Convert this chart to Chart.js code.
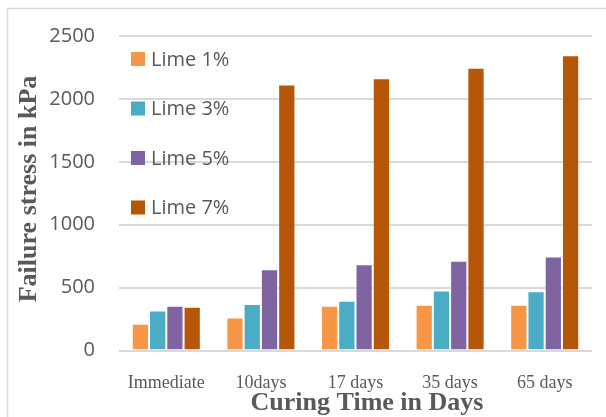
<!DOCTYPE html>
<html>
<head>
<meta charset="utf-8">
<script src="https://cdn.jsdelivr.net/npm/chart.js@4/dist/chart.umd.min.js"></script>
<style>
  html, body { margin: 0; padding: 0; background: #ffffff; }
  #wrap { width: 606px; height: 417px; position: relative; }
</style>
</head>
<body>
<div id="wrap"><canvas id="c" width="606" height="417"></canvas></div>
<script>
// Curing periods
const categories = ['Immediate', '10days', '17 days', '35 days', '65 days'];

// Failure stress (kPa) for each lime content
const lime1 = [213, 262, 356, 364, 364];
const lime3 = [317, 369, 395, 476, 471];
const lime5 = [356, 645, 685, 714, 747];
const lime7 = [348, 2114, 2164, 2247, 2346];

const seriesLabels = ['Lime 1%', 'Lime 3%', 'Lime 5%', 'Lime 7%'];
const seriesColors = ['#F79646', '#4BACC6', '#8064A2', '#B65708'];

const yTitle = 'Failure stress in kPa';
const xTitle = 'Curing Time in Days';

const GREY_TEXT = '#595959';
const SANS = "'Open Sans', 'Noto Sans', sans-serif";
const SERIF = "'Liberation Serif', 'Times New Roman', serif";

// Frame, axis titles and the in-plot legend
const decorations = {
  id: 'decorations',
  beforeDraw(chart) {
    const ctx = chart.ctx;
    ctx.save();
    ctx.strokeStyle = '#D9D9D9';
    ctx.lineWidth = 1.5;
    ctx.beginPath();
    ctx.moveTo(7.5, chart.height);
    ctx.lineTo(7.5, 8.5);
    ctx.lineTo(chart.width, 8.5);
    ctx.stroke();
    ctx.restore();
  },
  afterDraw(chart) {
    const ctx = chart.ctx;
    const area = chart.chartArea;
    ctx.save();
    // axis titles
    ctx.fillStyle = GREY_TEXT;
    ctx.font = 'bold 26px ' + SERIF;
    ctx.textAlign = 'center';
    ctx.textBaseline = 'alphabetic';
    ctx.fillText(xTitle, 367, 410);
    ctx.translate(36, 189);
    ctx.rotate(-Math.PI / 2);
    ctx.fillText(yTitle, 0, 0);
    ctx.restore();

    // legend stacked in the upper-left of the plot
    ctx.save();
    ctx.font = '20px ' + SANS;
    ctx.textBaseline = 'middle';
    ctx.textAlign = 'left';
    chart.data.datasets.forEach((ds, i) => {
      const cy = area.top + 23 + i * 49.5;
      ctx.fillStyle = ds.backgroundColor;
      ctx.fillRect(area.left + 12, cy - 7, 14, 14);
      ctx.fillStyle = GREY_TEXT;
      ctx.fillText(ds.label, area.left + 32, cy + 1);
    });
    ctx.restore();
  }
};

const datasets = [lime1, lime3, lime5, lime7].map((vals, i) => ({
  label: seriesLabels[i],
  data: vals,
  backgroundColor: seriesColors[i],
  borderColor: 'rgba(255,255,255,0.35)',
  borderWidth: { left: 1, right: 1, top: 1, bottom: 0 },
  borderSkipped: 'bottom',
  categoryPercentage: 0.73,
  barPercentage: 1.0
}));

new Chart(document.getElementById('c'), {
  type: 'bar',
  data: { labels: categories, datasets },
  options: {
    responsive: false,
    animation: false,
    devicePixelRatio: 1,
    layout: { padding: { left: 0, right: 14, top: 31, bottom: 0 } },
    plugins: {
      legend: { display: false },
      tooltip: { enabled: false }
    },
    scales: {
      x: {
        grid: { display: false, drawTicks: false },
        border: { display: false },
        ticks: {
          color: GREY_TEXT,
          font: { family: SERIF, size: 18 },
          padding: 22,
          maxRotation: 0
        },
        afterFit(scale) { scale.height = 66.5; }
      },
      y: {
        min: 0,
        max: 2500,
        grid: { color: '#D9D9D9', lineWidth: 2, drawTicks: false },
        border: { display: false },
        ticks: {
          stepSize: 500,
          color: GREY_TEXT,
          font: { family: SANS, size: 20 },
          padding: 24,
          callback: (v) => String(v)
        },
        afterFit(scale) { scale.width = 119; }
      }
    }
  },
  plugins: [decorations]
});
</script>
</body>
</html>
